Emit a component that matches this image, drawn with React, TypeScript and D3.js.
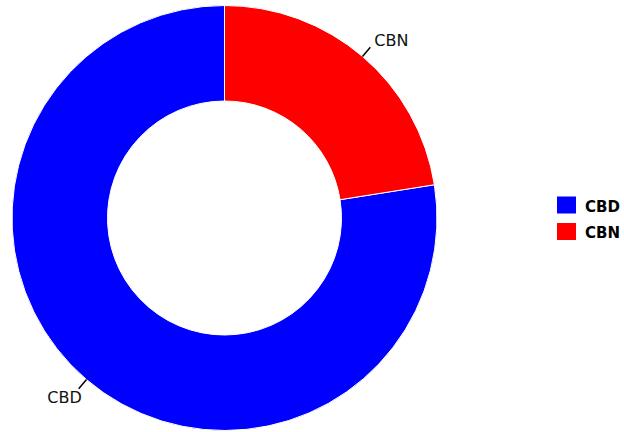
import React from 'react'
import * as d3 from 'd3'

const LABELS = ['CBD', 'CBN']
const VALUES = [77.5, 22.5]
const COLORS = ['#0000ff', '#ff0000']

const W = 624
const H = 432
const CX = 224.5
const CY = 218
const R_OUT = 212.5
const R_IN = 117

export default function App() {
  // CBN starts at 12 o'clock, CBD takes the rest
  const pie = d3
    .pie<number>()
    .sort(null)
    .startAngle(-(VALUES[0] / d3.sum(VALUES)) * 2 * Math.PI)
    .endAngle((VALUES[1] / d3.sum(VALUES)) * 2 * Math.PI)
  const arcs = pie(VALUES)
  const arc = d3.arc<d3.PieArcDatum<number>>().innerRadius(R_IN).outerRadius(R_OUT)

  const polar = (a: number, r: number) => [Math.sin(a) * r, -Math.cos(a) * r]

  return (
    <svg width={W} height={H} style={{ position: 'absolute', left: 0, top: 0, fontFamily: 'DejaVu Sans' }}>
      <g transform={`translate(${CX},${CY})`}>
        {arcs.map((a, i) => (
          <path key={i} d={arc(a) || ''} fill={COLORS[i]} stroke="#fff" strokeWidth={1} />
        ))}
        {arcs.map((a, i) => {
          const mid = (a.startAngle + a.endAngle) / 2
          const [x1, y1] = polar(mid, R_OUT)
          const [x2, y2] = polar(mid, R_OUT + 12)
          const right = x2 > 0
          return (
            <g key={'l' + i}>
              <line x1={x1} y1={y1} x2={x2} y2={y2} stroke="#000" strokeWidth={1.5} />
              <text
                x={right ? x2 + 4 : x2 + 3}
                y={right ? y2 - 7 : y2 + 9}
                textAnchor={right ? 'start' : 'end'}
                dominantBaseline="central"
                fontSize={16}
                fill="#111"
              >
                {LABELS[i]}
              </text>
            </g>
          )
        })}
      </g>
      <g transform="translate(557,196.5)">
        {LABELS.map((l, i) => (
          <g key={l} transform={`translate(0,${i * 26.5})`}>
            <rect width={19} height={17} fill={COLORS[i]} />
            <text x={28} y={10} dominantBaseline="central" fontSize={15} fontWeight="bold" fill="#000">
              {l}
            </text>
          </g>
        ))}
      </g>
    </svg>
  )
}
